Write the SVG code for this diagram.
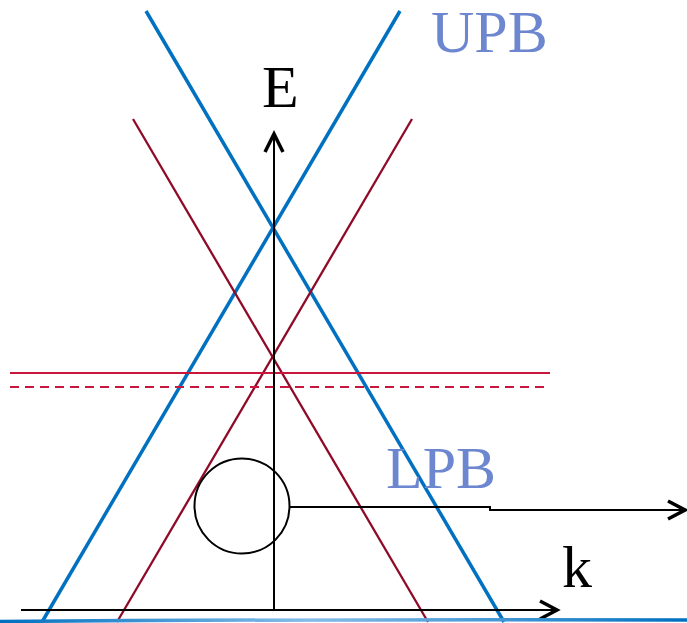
<svg xmlns="http://www.w3.org/2000/svg" width="687" height="623" viewBox="0 0 687 623">
<style>
.blue{stroke:#0070c0;stroke-width:3.5;fill:none}
.dred{stroke:#8e0a28;stroke-width:2.3;fill:none}
.hred{stroke:#c8163c;stroke-width:2;fill:none}
.ax{stroke:#000;stroke-width:2;fill:none}
.chev{stroke:#000;stroke-width:3.5;fill:none;stroke-linejoin:miter}
.lbl{font-family:"Liberation Serif","Times New Roman",serif;font-size:60px}
.band{fill:#6c86d0}
</style>
<defs>
<linearGradient id="g" x1="0" y1="0" x2="1" y2="0">
<stop offset="0" stop-color="#0070c0"/>
<stop offset="0.45" stop-color="#86bde8"/>
<stop offset="1" stop-color="#0070c0"/>
</linearGradient>
</defs>
<g id="connectors">
<line class="blue" x1="146" y1="11" x2="504" y2="622"/>
<line class="blue" x1="400" y1="11" x2="42" y2="622"/>
<line class="dred" x1="133" y1="119" x2="428" y2="622"/>
<line class="dred" x1="412" y1="119" x2="117" y2="622"/>
<line class="hred" x1="10" y1="373" x2="550" y2="373"/>
<line class="hred" x1="10" y1="387" x2="550" y2="387" stroke-dasharray="9,6" stroke="#d4143c"/>
<line class="ax" x1="274" y1="610" x2="274" y2="134"/>
<polyline class="chev" points="265,152 274,134 283,152"/>
<line class="ax" x1="21" y1="610" x2="555" y2="610"/>
<polyline class="chev" points="540,601 557,610 540,619"/>
<polyline class="ax" points="290,507 490,507 490,510 683,510"/>
<polyline class="chev" points="668,501 685,510 668,519"/>
<path d="M0,621.5 Q343,619 687,620" stroke="url(#g)" stroke-width="3.5" fill="none"/>
</g>
<g id="circle"><circle cx="242" cy="506" r="47.5" fill="none" stroke="#000" stroke-width="2"/></g>
<g id="label-E"><text class="lbl" x="262" y="107">E</text></g>
<g id="label-k"><text class="lbl" x="562" y="587">k</text></g>
<g id="label-UPB"><text class="lbl band" x="431" y="52">UPB</text></g>
<g id="label-LPB"><text class="lbl band" x="386" y="488">LPB</text></g>
</svg>
